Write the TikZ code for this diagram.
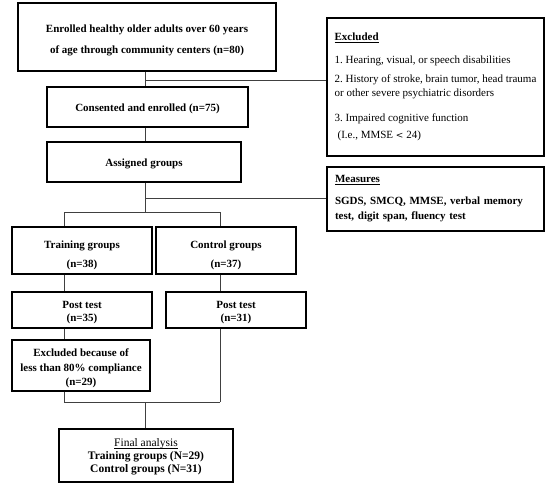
\documentclass[tikz,border=0pt]{standalone}
\usepackage{fontspec}
\setmainfont{Liberation Serif}
\newcommand\dn[1]{\rule{0pt}{#1pt}}
\newcommand\uline[1]{\setbox0\hbox{#1}\rlap{\raisebox{-1.6pt}{\rule{\wd0}{0.6pt}}}\box0}
\begin{document}
\frenchspacing
\begin{tikzpicture}[x=1pt,y=-1pt,
  box/.style={draw=black,line width=1.3pt,inner sep=0pt,align=center,font=\bfseries\fontsize{11}{14}\selectfont},
  conn/.style={draw=black!75,line width=0.8pt}]
\useasboundingbox (0,0) rectangle (557,488);
\node[box,minimum width=258pt,minimum height=68pt,font=\bfseries\fontsize{11}{21}\selectfont] (enr) at (147,37) {\dn{13.6}Enrolled healthy older adults over 60 years\\of age through community centers (n=80)};
\node[box,minimum width=201pt,minimum height=40pt] (cons) at (147.5,107) {\dn{11.6}Consented and enrolled (n=75)};
\node[box,minimum width=194pt,minimum height=40pt] (asg) at (144,162) {\dn{11.6}Assigned groups};
\node[box,minimum width=217pt,minimum height=138pt,align=left,font=\fontsize{11}{14}\selectfont] (exc) at (435.5,87) {\uline{\bfseries Excluded}\\[9pt]
1. Hearing, visual, or speech disabilities\\[5pt]
2. History of stroke, brain tumor, head trauma\\or other severe psychiatric disorders\\[11pt]
3. Impaired cognitive function\\[3pt]
\hspace*{3pt}(I.e., MMSE {\fontspec{DejaVu Serif}\fontsize{9}{14}\selectfont<} 24)};
\node[box,minimum width=217pt,minimum height=64pt,align=left,text width=201pt] (meas) at (435.5,199) {\uline{Measures}\\[8pt]
SGDS, SMCQ, MMSE, verbal memory\\[1pt]test, digit span, fluency test};
\node[box,minimum width=140pt,minimum height=47pt,font=\bfseries\fontsize{11}{19}\selectfont] (tr) at (82,250.5) {\dn{16.6}Training groups\\(n=38)};
\node[box,minimum width=140pt,minimum height=47pt,font=\bfseries\fontsize{11}{19}\selectfont] (ct) at (226,250.5) {\dn{16.6}Control groups\\(n=37)};
\node[box,minimum width=140pt,minimum height=36pt,font=\bfseries\fontsize{11}{13.5}\selectfont] (pt1) at (82,310) {\dn{12.6}Post test\\(n=35)};
\node[box,minimum width=140pt,minimum height=36pt,font=\bfseries\fontsize{11}{13.5}\selectfont] (pt2) at (236,310) {\dn{12.6}Post test\\(n=31)};
\node[box,minimum width=138pt,minimum height=51pt,font=\bfseries\fontsize{11}{14.5}\selectfont] (ex2) at (81,365.5) {\dn{13.6}Excluded because of\\less than 80\% compliance\\(n=29)};
\node[box,minimum width=174pt,minimum height=53pt,font=\bfseries\fontsize{11.5}{13}\selectfont] (fin) at (146,455.5) {\dn{11}\uline{\mdseries Final analysis}\\Training groups (N=29)\\Control groups (N=31)};
\coordinate (j1) at (145,80);
\coordinate (j2) at (145,198);
\coordinate (j3) at (145,212);
\coordinate (tl) at (64,212);
\coordinate (tr2) at (220,212);
\coordinate (bl) at (64,402);
\coordinate (br) at (220,402);
\coordinate (bm) at (145,402);
\draw[conn] (enr.south -| j1) -- (cons.north -| j1);
\draw[conn] (j1) -- (exc.west |- j1);
\draw[conn] (cons.south -| j1) -- (asg.north -| j1);
\draw[conn] (asg.south -| j2) -- (j3);
\draw[conn] (j2) -- (meas.west |- j2);
\draw[conn] (tl) -- (tr2);
\draw[conn] (tl) -- (tr.north -| tl);
\draw[conn] (tr2) -- (ct.north -| tr2);
\draw[conn] (tr.south -| tl) -- (pt1.north -| tl);
\draw[conn] (ct.south -| tr2) -- (pt2.north -| tr2);
\draw[conn] (pt1.south -| tl) -- (ex2.north -| tl);
\draw[conn] (ex2.south -| bl) -- (bl) -- (br);
\draw[conn] (pt2.south -| br) -- (br);
\draw[conn] (bm) -- (fin.north -| bm);
\end{tikzpicture}
\end{document}
